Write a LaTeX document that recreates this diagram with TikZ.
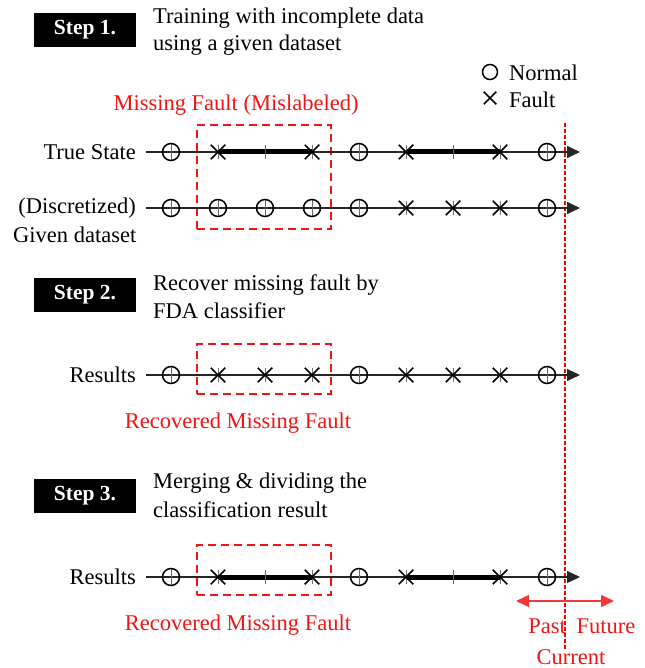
\documentclass[tikz,border=0pt]{standalone}
\usepackage{fontspec}
\setmainfont{Liberation Serif}
\usetikzlibrary{arrows.meta,shapes.misc}
\definecolor{fred}{RGB}{240,20,20}
\begin{document}
\begin{tikzpicture}[x=1pt,y=-1pt,
  txt/.style={font=\fontsize{22.5}{27}\selectfont, inner sep=0pt},
  redtxt/.style={txt, text=fred},
  stepbox/.style={fill=black, text=white, font=\fontsize{21.5}{26}\selectfont\bfseries, minimum width=102pt, minimum height=34pt, inner sep=0pt},
  axisline/.style={line width=1.2pt, draw=black!85, -{Triangle[length=13pt,width=12pt]}},
  normalmark/.style={circle, draw, line width=1.5pt, minimum size=17pt, inner sep=0pt,
    path picture={\draw[line width=0.9pt, black!60] (path picture bounding box.north) -- (path picture bounding box.south);}},
  faultmark/.style={cross out, draw, line width=1.5pt, minimum size=13pt, inner sep=0pt},
  faultbar/.style={draw=black!55, line width=0.9pt},
  thickbar/.style={line width=5pt},
  midtick/.style={draw=black!60, line width=0.9pt},
  missbox/.style={draw=fred, line width=1.8pt, dash pattern=on 8pt off 5pt},
  nowline/.style={draw=red, line width=1.3pt, dash pattern=on 4pt off 2pt},
  timearrow/.style={draw=fred!85, line width=1.5pt, -{Triangle[length=13pt,width=12pt]}},
]
\useasboundingbox (0,0) rectangle (644,668);

% Step headings
\node[stepbox] (s1) at (85,30) {Step 1.};
\node[txt, anchor=west] (s1a) at (153,18) {Training with incomplete data};
\node[txt, anchor=west] (s1b) at (153,45) {using a given dataset};
\node[stepbox] (s2) at (85,295) {Step 2.};
\node[txt, anchor=west] (s2a) at (153,285) {Recover missing fault by};
\node[txt, anchor=west] (s2b) at (153,311) {FDA classifier};
\node[stepbox] (s3) at (85,496) {Step 3.};
\node[txt, anchor=west] (s3a) at (153,483) {Merging \& dividing the};
\node[txt, anchor=west] (s3b) at (153,510) {classification result};

% Legend
\node[circle, draw, line width=1.5pt, minimum size=15pt, inner sep=0pt] (lgn) at (490,72) {};
\node[txt, anchor=west] (lgnt) at (509,73) {Normal};
\node[cross out, draw, line width=1.5pt, minimum size=11pt, inner sep=0pt] (lgf) at (490,98) {};
\node[txt, anchor=west] (lgft) at (509,100) {Fault};

% Row labels
\node[txt, anchor=east] (l1) at (136,152) {True State};
\node[txt, anchor=east] (l2) at (136,208) {(Discretized)};
\node[txt, anchor=west] (l2b) at (13,235) {Given dataset};
\node[txt, anchor=east] (l3) at (136,375) {Results};
\node[txt, anchor=east] (l4) at (136,577) {Results};

% Red annotations
\node[redtxt] (mf) at (236,105) {Missing Fault (Mislabeled)};
\node[redtxt] (rmf1) at (238,423) {Recovered Missing Fault};
\node[redtxt] (rmf2) at (238,625) {Recovered Missing Fault};

% Dashed boxes
\node[missbox, minimum width=134pt, minimum height=104pt, inner sep=0pt] (b1) at (264,177) {};
\node[missbox, minimum width=134pt, minimum height=50pt, inner sep=0pt] (b2) at (264,369) {};
\node[missbox, minimum width=134pt, minimum height=50pt, inner sep=0pt] (b3) at (264,570) {};

% current time line
\coordinate (nowtop) at (565,123);
\coordinate (nowbot) at (565,650);
\draw[nowline] (nowtop) -- (nowbot);

% rows
\foreach \r/\y in {1/152,2/208,3/375,4/577}{
  \coordinate (a\r s) at (146,\y);
  \coordinate (a\r e) at (580,\y);
  \draw[axisline] (a\r s) -- (a\r e);
  \foreach \i in {0,...,8}{
    \coordinate (r\r p\i) at ({171+47*\i},\y);
  }
}
% thick fault segments
\foreach \r in {1,4}{
  \draw[thickbar] (r\r p1) -- (r\r p3);
  \draw[thickbar] (r\r p5) -- (r\r p7);
  \draw[midtick] ([yshift=-7pt]r\r p2) -- ([yshift=7pt]r\r p2);
  \draw[midtick] ([yshift=-7pt]r\r p6) -- ([yshift=7pt]r\r p6);
}
% markers
\foreach \r/\pat in {1/{N,F,-,F,N,F,-,F,N},2/{N,N,N,N,N,F,F,F,N},3/{N,F,F,F,N,F,F,F,N},4/{N,F,-,F,N,F,-,F,N}}{
  \foreach \m [count=\c from 0] in \pat {
    \if N\m
      \node[normalmark] (m\r n\c) at (r\r p\c) {};
    \fi
    \if F\m
      \draw[faultbar] ([yshift=-7pt]r\r p\c) -- ([yshift=7pt]r\r p\c);
      \node[faultmark] (m\r f\c) at (r\r p\c) {};
    \fi
  }
}

% past / future
\coordinate (tnow) at (565,601);
\coordinate (tpast) at (516,601);
\coordinate (tfut) at (614,601);
\draw[timearrow] (tnow) -- (tpast);
\draw[timearrow] (tnow) -- (tfut);
\node[redtxt] (past) at (547,626) {Past};
\node[redtxt] (fut) at (606,626) {Future};
\node[redtxt] (cur) at (571,657) {Current};
\end{tikzpicture}
\end{document}
